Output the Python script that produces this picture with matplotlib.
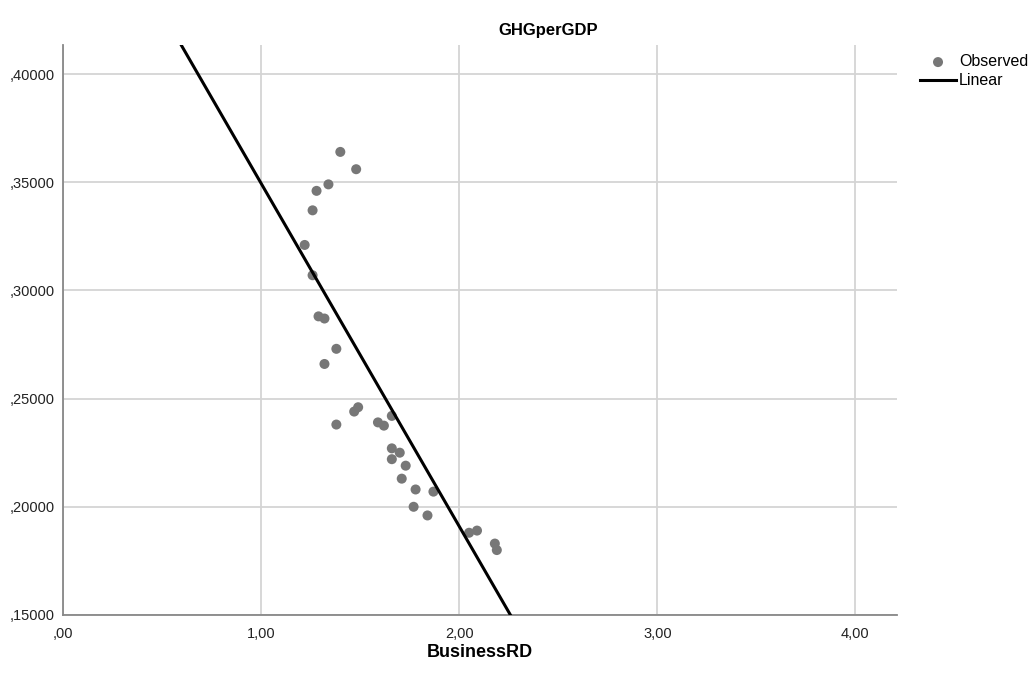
import numpy as np
import matplotlib.pyplot as plt
from matplotlib.ticker import FuncFormatter

plt.rcParams['font.family'] = ['Liberation Sans', 'DejaVu Sans']

business_rd = [1.40, 1.48, 1.34, 1.28, 1.26, 1.22, 1.26, 1.29, 1.32, 1.38,
               1.32, 1.38, 1.47, 1.49, 1.59, 1.62, 1.66, 1.66, 1.70, 1.66,
               1.73, 1.71, 1.78, 1.87, 1.77, 1.84, 2.05, 2.09, 2.18, 2.19]
ghg_per_gdp = [0.364, 0.356, 0.349, 0.346, 0.337, 0.321, 0.307, 0.288, 0.287, 0.273,
               0.266, 0.238, 0.244, 0.246, 0.239, 0.2375, 0.242, 0.227, 0.225, 0.222,
               0.219, 0.213, 0.208, 0.207, 0.200, 0.196, 0.188, 0.189, 0.183, 0.180]

# linear fit coefficients
fit_intercept = 0.508
fit_slope = -0.1585

x_ticks = [0, 1, 2, 3, 4]
y_ticks = [0.15, 0.20, 0.25, 0.30, 0.35, 0.40]


def comma_fmt(decimals):
    def f(v, pos):
        s = f"{v:.{decimals}f}".replace('.', ',')
        if s.startswith('0,'):
            s = s[1:]
        return s
    return FuncFormatter(f)


fig = plt.figure(figsize=(10.34, 6.84), dpi=100)
ax = fig.add_axes([0.0609, 0.1009, 0.8066, 0.8333])

ax.grid(True, color='#d4d4d4', linewidth=1.3, zorder=0)
sc = ax.scatter(business_rd, ghg_per_gdp, s=52, color='#777777', edgecolors='none',
                zorder=3, label='Observed')
xs = np.array([0.0, 4.3])
ln, = ax.plot(xs, fit_intercept + fit_slope * xs, color='black', linewidth=2.2,
              zorder=4, label='Linear')

ax.set_xlim(0, 4.21)
ax.set_ylim(0.15, 0.4134)
ax.set_xticks(x_ticks)
ax.set_yticks(y_ticks)
ax.xaxis.set_major_formatter(comma_fmt(2))
ax.yaxis.set_major_formatter(comma_fmt(5))
ax.tick_params(length=0, labelsize=10.5, labelcolor='#222222')
ax.tick_params(axis='x', pad=9)
ax.tick_params(axis='y', pad=6)

for side in ['top', 'right']:
    ax.spines[side].set_visible(False)
for side in ['left', 'bottom']:
    ax.spines[side].set_color('#888888')
    ax.spines[side].set_linewidth(1.3)

ax.set_xlabel('BusinessRD', fontsize=13, fontweight='bold', labelpad=2)
fig.text(548 / 1034, 1 - 30 / 684, 'GHGperGDP', ha='center', va='center',
         fontsize=12, fontweight='bold')

fig.legend(handles=[sc, ln], loc='upper left', bbox_to_anchor=(0.884, 0.93),
           frameon=False, fontsize=11.5, handlelength=2.2, handletextpad=0.2,
           labelspacing=0.25, borderaxespad=0)

fig.savefig('out.png', dpi=100)
